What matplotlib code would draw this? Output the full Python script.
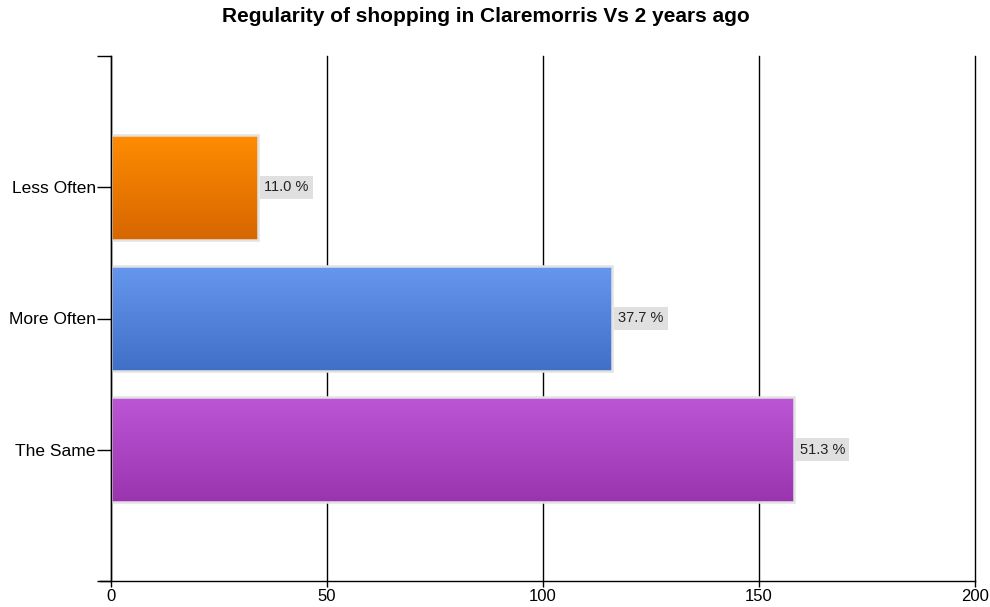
import matplotlib
matplotlib.use("Agg")
import matplotlib.pyplot as plt
import numpy as np
from matplotlib.colors import LinearSegmentedColormap
from matplotlib.patches import Rectangle

plt.rcParams["font.family"] = ["Liberation Sans", "DejaVu Sans"]

categories = ["Less Often", "More Often", "The Same"]
counts = [34, 116, 158]
percent_labels = ["11.0 %", "37.7 %", "51.3 %"]
top_colors = ["#FF8C00", "#6697EE", "#BC56D6"]
bottom_colors = ["#D66600", "#3F6FC6", "#9A34AE"]
x_ticks = [0, 50, 100, 150, 200]

fig = plt.figure(figsize=(9.9, 6.07), dpi=100)
ax = fig.add_axes([111/990, 26/607, 864/990, 525/607])
ax.set_xlim(0, 200)
ax.set_ylim(3, -1)

for x in x_ticks:
    ax.axvline(x, color="black", lw=1.0, zorder=1, clip_on=False)

h = 0.8
for i, (cat, v) in enumerate(zip(categories, counts)):
    cmap = LinearSegmentedColormap.from_list("g", [top_colors[i], bottom_colors[i]])
    grad = np.linspace(0, 1, 256).reshape(-1, 1)
    im = ax.imshow(grad, cmap=cmap, aspect="auto",
                   extent=[0, v, i + h/2, i - h/2], zorder=2, interpolation="bilinear")
    rect = Rectangle((0, i - h/2), v, h, facecolor="none",
                     edgecolor="#E2E2E2", lw=1.8, zorder=3)
    ax.add_patch(rect)
    im.set_clip_path(rect)
    ax.text(v + 1.4, i, percent_labels[i], va="center", ha="left", fontsize=10.5,
            color="#222222", zorder=4,
            bbox=dict(boxstyle="square,pad=0.3", facecolor="#E0E0E0", edgecolor="none"))

ax.set_xlim(0, 200)
ax.set_ylim(3, -1)
ax.set_yticks(range(len(categories)))
ax.set_yticklabels(categories, fontsize=12.5)
ax.set_yticks([-1, 3], minor=True)
ax.tick_params(axis="y", which="both", length=10, width=1, color="black", pad=1)
ax.set_xticks(x_ticks)
ax.set_xticklabels([str(t) for t in x_ticks], fontsize=12)
ax.tick_params(axis="x", length=4, width=1, pad=2)

for s in ["top", "right"]:
    ax.spines[s].set_visible(False)
ax.spines["left"].set_linewidth(1)
ax.spines["left"].set_zorder(5)
ax.spines["bottom"].set_linewidth(1)
ax.spines["bottom"].set_bounds(-2.6, 200)
ax.spines["bottom"].set_zorder(5)

fig.text(486/990, 1 - 17/607, "Regularity of shopping in Claremorris Vs 2 years ago",
         ha="center", va="center", fontsize=15, fontweight="bold")

fig.savefig("out.png", dpi=100)
